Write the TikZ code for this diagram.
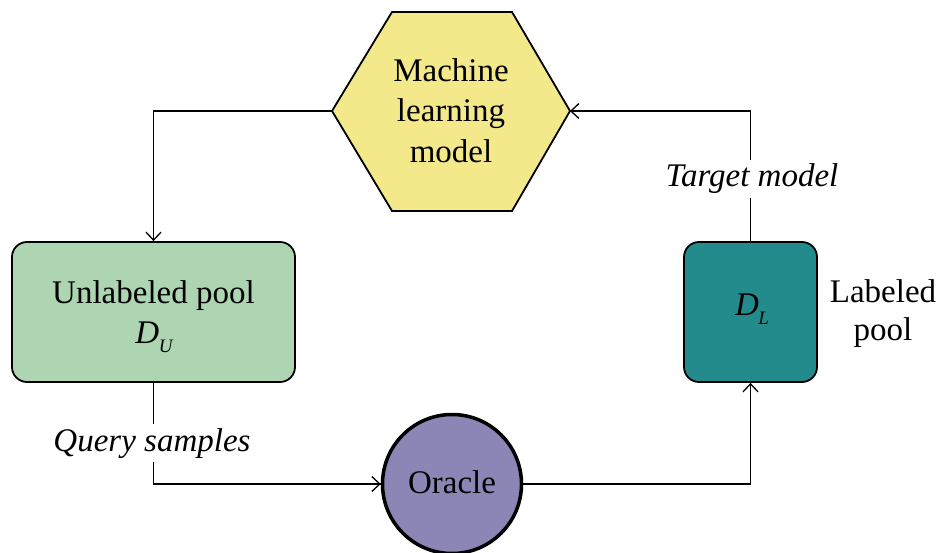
\documentclass[tikz,border=0pt]{standalone}
\usepackage{fontspec}
\setmainfont{Liberation Serif}
\usetikzlibrary{arrows.meta}

\definecolor{mlfill}{HTML}{F3E98B}
\definecolor{upfill}{HTML}{ADD5B2}
\definecolor{lpfill}{HTML}{238B8B}
\definecolor{orfill}{HTML}{8B86B5}

\tikzset{
  lbl/.style={font=\fontsize{33}{40}\selectfont, inner sep=0pt},
  pool/.style={draw=black, line width=1.8pt, rounded corners=15pt},
  conn/.style={draw=black, line width=1.3pt, -{Straight Barb[length=8pt,width=15pt,line width=1.3pt]}},
  plain/.style={draw=black, line width=1.3pt}
}

\newcommand{\dsub}[1]{\textit{D}\kern-0.5pt\raisebox{-9pt}{\fontsize{19}{19}\selectfont\itshape #1}}

\begin{document}
\begin{tikzpicture}[x=1pt,y=-1pt]
\useasboundingbox (0,0) rectangle (939,553);
\fill[white] (0,0) rectangle (939,553);

% machine learning model (hexagon)
\coordinate (hexL) at (332,111);
\coordinate (hexR) at (570,111);
\filldraw[fill=mlfill, draw=black, line width=1.8pt]
  (392,12) -- (512,12) -- (hexR) -- (512,211) -- (392,211) -- (hexL) -- cycle;
\node[lbl, anchor=base] (ml1) at (451,82) {Machine};
\node[lbl, anchor=base] (ml2) at (451,122) {learning};
\node[lbl, anchor=base] (ml3) at (451,163) {model};

% unlabeled pool
\node[pool, fill=upfill, minimum width=283pt, minimum height=140pt] (up) at (153.5,312) {};
\node[lbl, anchor=base] (upt) at (153.5,303) {Unlabeled pool};
\node[lbl, anchor=base] (upd) at (154,343) {\dsub{U}};

% labeled pool
\node[pool, fill=lpfill, minimum width=133pt, minimum height=140pt] (lp) at (750.5,312) {};
\node[lbl, anchor=base] (lpd) at (752,315) {\dsub{L}};
\node[lbl, anchor=base] (lpt1) at (883,302) {Labeled};
\node[lbl, anchor=base] (lpt2) at (883,340) {pool};

% oracle
\node[circle, draw=black, line width=3.5pt, fill=orfill, minimum size=139pt, inner sep=0pt] (or) at (452,484) {};
\node[lbl, anchor=base] (ort) at (452,493) {Oracle};

% connectors
\draw[conn] (hexL) -| (up.north);
\draw[plain] (up.south) |- (or.west);
\draw[conn] (up.south |- or.west) -- (or.west);
\draw[conn] (or.east) -| (lp.south);
\draw[conn] (lp.north) |- (hexR);

% connector labels
\node[lbl, anchor=base, fill=white, inner ysep=4pt, inner xsep=2pt] (qs) at (152,451) {\itshape Query samples};
\node[lbl, anchor=base, fill=white, inner ysep=4pt, inner xsep=2pt] (tm) at (752,187) {\itshape Target model};
\end{tikzpicture}
\end{document}
